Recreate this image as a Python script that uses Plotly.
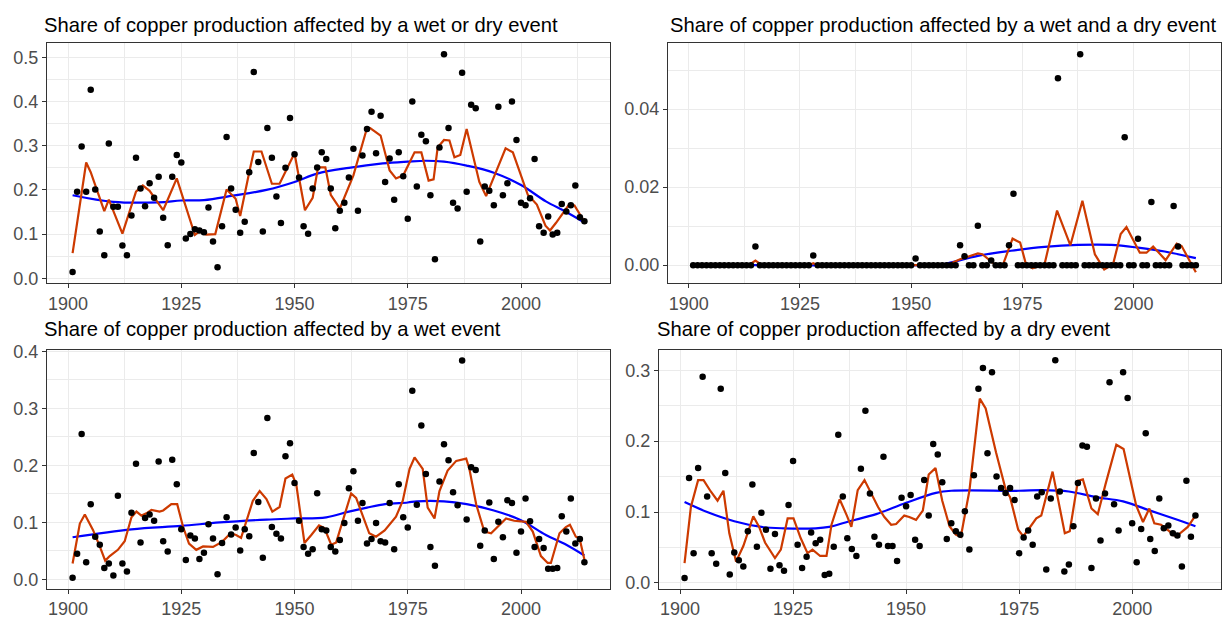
import plotly.graph_objects as go

years = list(range(1901, 2015))

titles = [
    "Share of copper production affected by a wet or dry event",
    "Share of copper production affected by a wet and a dry event",
    "Share of copper production affected by a wet event",
    "Share of copper production affected by a dry event",
]

# ---- Panel 1: wet or dry ----
wet_or_dry = [
    0.014, 0.196, 0.298, 0.196, 0.427, 0.201, 0.106, 0.052, 0.305,          # 1901-1909
    0.162, 0.162, 0.074, 0.052, 0.142, 0.273, 0.203, 0.163, 0.215, 0.182,   # 1910-1919
    0.230, 0.137, 0.075, 0.230, 0.279, 0.262, 0.090, 0.100, 0.111, 0.108,   # 1920-1929
    0.104, 0.160, 0.083, 0.025, 0.118, 0.320, 0.203, 0.155, 0.103, 0.128,   # 1930-1939
    0.240, 0.467, 0.263, 0.106, 0.340, 0.273, 0.185, 0.125, 0.250, 0.363,   # 1940-1949
    0.281, 0.228, 0.118, 0.101, 0.203, 0.251, 0.285, 0.270, 0.203, 0.113,   # 1950-1959
    0.153, 0.171, 0.228, 0.293, 0.153, 0.278, 0.338, 0.377, 0.283, 0.368,   # 1960-1969
    0.218, 0.271, 0.178, 0.285, 0.231, 0.135, 0.400, 0.208, 0.325, 0.310,   # 1970-1979
    0.188, 0.043, 0.296, 0.507, 0.340, 0.171, 0.158, 0.465, 0.196, 0.393,   # 1980-1989
    0.385, 0.083, 0.208, 0.198, 0.165, 0.388, 0.188, 0.215, 0.400, 0.313,   # 1990-1999
    0.171, 0.165, 0.181, 0.270, 0.118, 0.103, 0.140, 0.099, 0.103, 0.168,   # 2000-2009
    0.151, 0.165, 0.210, 0.138, 0.129,                                      # 2010-2014
]
wod_orange_x = [1901, 1904, 1905, 1908, 1909, 1912, 1915, 1916.5, 1918, 1921, 1924, 1928, 1929,
                1930.5, 1932.5, 1935, 1937, 1938, 1940, 1941, 1942.7, 1945, 1946.7, 1950, 1952.3,
                1954, 1955.2, 1956.8, 1958, 1960, 1963, 1966, 1966.7, 1969, 1971, 1972.4, 1974,
                1976.5, 1978, 1979.6, 1980.7, 1981.6, 1983, 1984.2, 1985.3, 1986.6, 1988, 1990.8,
                1992.3, 1996.6, 1998.2, 2001.5, 2003.5, 2005.4, 2006.4, 2007.7, 2010.7, 2011.8, 2014]
wod_orange_y = [0.057, 0.262, 0.240, 0.152, 0.178, 0.101, 0.196, 0.210, 0.198, 0.154, 0.226, 0.098, 0.106,
                0.099, 0.100, 0.201, 0.180, 0.141, 0.240, 0.287, 0.287, 0.214, 0.214, 0.283, 0.154,
                0.182, 0.251, 0.251, 0.189, 0.158, 0.233, 0.340, 0.340, 0.323, 0.244, 0.226, 0.233,
                0.285, 0.285, 0.221, 0.224, 0.296, 0.313, 0.312, 0.274, 0.279, 0.338, 0.218,
                0.186, 0.294, 0.285, 0.189, 0.167, 0.119, 0.108, 0.125, 0.168, 0.165, 0.128]
wod_blue_x = [1901, 1910, 1920, 1925, 1930, 1936.4, 1943.8, 1950, 1955, 1962, 1969.5, 1975, 1979,
              1983, 1988, 1994, 2000, 2005.5, 2010, 2014]
wod_blue_y = [0.188, 0.173, 0.172, 0.176, 0.177, 0.187, 0.200, 0.218, 0.237, 0.250, 0.260, 0.264, 0.266,
              0.264, 0.255, 0.239, 0.211, 0.174, 0.150, 0.126]

# ---- Panel 2: wet and dry ----
wet_and_dry = [
    0, 0, 0, 0, 0, 0, 0, 0, 0,                                              # 1901-1909
    0, 0, 0, 0, 0, 0.0048, 0, 0, 0, 0,                                      # 1910-1919
    0, 0, 0, 0, 0, 0, 0, 0, 0.0025, 0,                                      # 1920-1929
    0, 0, 0, 0, 0, 0, 0, 0, 0, 0,                                           # 1930-1939
    0, 0, 0, 0, 0, 0, 0, 0, 0, 0,                                           # 1940-1949
    0, 0.0017, 0, 0, 0, 0, 0, 0, 0, 0,                                      # 1950-1959
    0, 0.0051, 0.0023, 0, 0, 0.0101, 0, 0, 0.0012, 0,                       # 1960-1969
    0, 0, 0.0051, 0.0183, 0, 0, 0, 0, 0, 0,                                 # 1970-1979
    0, 0, 0, 0.0479, 0, 0, 0, 0, 0.0541, 0,                                 # 1980-1989
    0, 0, 0, 0, 0, 0, 0, 0, 0.0328, 0,                                      # 1990-1999
    0, 0.0068, 0, 0, 0.0162, 0, 0, 0, 0, 0.0152,                            # 2000-2009
    0.0048, 0, 0, 0, 0,                                                     # 2010-2014
]
wad_orange_x = [1901, 1913.5, 1915, 1916.5, 1927, 1928, 1929, 1958, 1961, 1965, 1966, 1969, 1970.6,
                1972.8, 1974.5, 1975.8, 1977.3, 1980, 1982.8, 1985.8, 1988.5, 1991.3, 1993.4, 1995.4,
                1997.1, 1998.4, 2001.4, 2002.9, 2004.4, 2007.2, 2009.7, 2010.8, 2014]
wad_orange_y = [0, 0, 0.0012, 0, 0, 0.0005, 0, 0, 0.0015, 0.0030, 0.0028, 0, 0,
                0.0068, 0.0058, 0.0003, -0.0008, 0.0003, 0.0140, 0.0051, 0.0165, 0.0028, -0.0011, 0.0003,
                0.0080, 0.0098, 0.0032, 0.0032, 0.0048, 0.0013, 0.0055, 0.0049, -0.0018]
wad_blue_x = [1901, 1955, 1957.4, 1965, 1972.4, 1980, 1987.5, 1995, 2001, 2007, 2014]
wad_blue_y = [0.0001, 0.0001, 0.0003, 0.0024, 0.0037, 0.0047, 0.0052, 0.0052, 0.0045, 0.0035, 0.0018]

# ---- Panel 3: wet ----
wet = [
    0.003, 0.045, 0.255, 0.030, 0.132, 0.075, 0.061, 0.020, 0.028,          # 1901-1909
    0.007, 0.147, 0.028, 0.014, 0.117, 0.203, 0.065, 0.108, 0.114, 0.103,   # 1910-1919
    0.207, 0.067, 0.049, 0.210, 0.167, 0.088, 0.034, 0.077, 0.072, 0.036,   # 1920-1929
    0.047, 0.097, 0.072, 0.009, 0.064, 0.109, 0.079, 0.091, 0.051, 0.088,   # 1930-1939
    0.076, 0.222, 0.136, 0.038, 0.283, 0.092, 0.080, 0.072, 0.216, 0.239,   # 1940-1949
    0.169, 0.103, 0.057, 0.045, 0.053, 0.151, 0.088, 0.086, 0.057, 0.049,   # 1950-1959
    0.069, 0.099, 0.160, 0.190, 0.103, 0.134, 0.063, 0.071, 0.099, 0.067,   # 1960-1969
    0.065, 0.134, 0.053, 0.167, 0.109, 0.091, 0.331, 0.131, 0.270, 0.185,   # 1970-1979
    0.057, 0.024, 0.172, 0.237, 0.209, 0.153, 0.130, 0.384, 0.105, 0.197,   # 1980-1989
    0.192, 0.059, 0.086, 0.135, 0.036, 0.101, 0.074, 0.139, 0.134, 0.047,   # 1990-1999
    0.084, 0.142, 0.102, 0.057, 0.071, 0.055, 0.019, 0.019, 0.020, 0.111,   # 2000-2009
    0.084, 0.142, 0.063, 0.071, 0.030,                                      # 2010-2014
]
wet_orange_x = [1901, 1902.6, 1903.7, 1905.5, 1907, 1908.2, 1909.2, 1911, 1912.5, 1914, 1915.1, 1916.2,
                1917.3, 1918.4, 1920.2, 1921, 1922.8, 1924.1, 1925.4, 1926.7, 1928.3, 1929.8, 1932, 1934,
                1935.9, 1937.1, 1938.2, 1940.8, 1942.3, 1943.8, 1945.1, 1946.7, 1948, 1949.5, 1950.4,
                1952.2, 1953.7, 1955.4, 1956.6, 1958.1, 1959.2, 1960.5, 1962.5, 1963.6, 1965.1, 1966.5,
                1968, 1969.9, 1972.4, 1973.9, 1975.4, 1976.5, 1978.3, 1979.4, 1980.9, 1982, 1983.8,
                1985.7, 1987.9, 1988.6, 1990.1, 1991.9, 1993.4, 1996.7, 1998.5, 2001.1, 2002.6, 2004.4,
                2005.9, 2006.6, 2008.5, 2009.9, 2010.8, 2012.1, 2012.9, 2014]
wet_orange_y = [0.028, 0.098, 0.114, 0.087, 0.058, 0.033, 0.041, 0.052, 0.067, 0.109, 0.119, 0.112,
                0.116, 0.122, 0.119, 0.121, 0.132, 0.132, 0.092, 0.063, 0.052, 0.058, 0.057, 0.066,
                0.081, 0.078, 0.073, 0.138, 0.155, 0.141, 0.119, 0.127, 0.177, 0.184, 0.166,
                0.064, 0.078, 0.095, 0.090, 0.061, 0.065, 0.098, 0.151, 0.143, 0.112, 0.081,
                0.075, 0.086, 0.110, 0.138, 0.194, 0.214, 0.194, 0.126, 0.107, 0.155, 0.191,
                0.208, 0.212, 0.194, 0.132, 0.084, 0.081, 0.107, 0.103, 0.101, 0.084, 0.041,
                0.029, 0.029, 0.081, 0.092, 0.096, 0.075, 0.073, 0.035]
wet_blue_x = [1901, 1914, 1925, 1933.5, 1943.8, 1950, 1957, 1962, 1966, 1970, 1975, 1977, 1983, 1988,
              1994, 2000, 2005.5, 2010, 2014]
wet_blue_y = [0.074, 0.088, 0.094, 0.100, 0.105, 0.107, 0.109, 0.119, 0.126, 0.132, 0.135, 0.137, 0.137,
              0.132, 0.121, 0.104, 0.078, 0.061, 0.042]

# ---- Panel 4: dry ----
dry = [
    0.007, 0.148, 0.042, 0.162, 0.291, 0.122, 0.042, 0.027, 0.274,          # 1901-1909
    0.155, 0.012, 0.043, 0.032, 0.023, 0.073, 0.139, 0.051, 0.099, 0.075,   # 1910-1919
    0.020, 0.069, 0.025, 0.017, 0.110, 0.172, 0.054, 0.021, 0.037, 0.071,   # 1920-1929
    0.056, 0.061, 0.011, 0.013, 0.051, 0.209, 0.122, 0.063, 0.048, 0.038,   # 1930-1939
    0.161, 0.243, 0.126, 0.065, 0.054, 0.178, 0.052, 0.052, 0.031, 0.120,   # 1940-1949
    0.108, 0.124, 0.061, 0.052, 0.145, 0.095, 0.196, 0.181, 0.142, 0.062,   # 1950-1959
    0.084, 0.073, 0.068, 0.101, 0.047, 0.152, 0.274, 0.303, 0.183, 0.297,   # 1960-1969
    0.150, 0.134, 0.127, 0.134, 0.117, 0.042, 0.064, 0.074, 0.054, 0.122,   # 1970-1979
    0.128, 0.019, 0.119, 0.314, 0.129, 0.016, 0.026, 0.080, 0.141, 0.194,   # 1980-1989
    0.192, 0.021, 0.119, 0.060, 0.126, 0.283, 0.111, 0.074, 0.297, 0.261,   # 1990-1999
    0.084, 0.029, 0.076, 0.211, 0.062, 0.045, 0.119, 0.077, 0.081, 0.070,   # 2000-2009
    0.067, 0.023, 0.144, 0.065, 0.095,                                      # 2010-2014
]
dry_orange_x = [1901, 1902.4, 1904, 1905.2, 1906.8, 1908.3, 1909.6, 1910.9, 1912.4, 1914, 1916.2, 1917.5,
                1918.8, 1921, 1922.3, 1923.8, 1925.1, 1926.7, 1928.2, 1929.3, 1931, 1932.4, 1933.5,
                1935.3, 1936.9, 1937.9, 1939.3, 1940.8, 1943.8, 1945.2, 1946.7, 1947.8, 1949.6, 1950.7,
                1952.2, 1953.7, 1955, 1956.5, 1958, 1959.6, 1961, 1962.1, 1964, 1966.3, 1967.6, 1969.9,
                1972.1, 1973, 1974.8, 1975.9, 1977, 1978.8, 1979.9, 1982.4, 1985.1, 1986.2, 1988,
                1989.1, 1991, 1992.4, 1994.1, 1996.5, 1998.1, 2000.9, 2002.4, 2003.8, 2004.9, 2006.4,
                2008.2, 2009.3, 2010.4, 2012.3, 2014]
dry_orange_y = [0.028, 0.107, 0.145, 0.145, 0.129, 0.116, 0.130, 0.070, 0.030, 0.052, 0.094, 0.079,
                0.057, 0.035, 0.047, 0.091, 0.091, 0.063, 0.042, 0.047, 0.038, 0.038, 0.082,
                0.118, 0.095, 0.079, 0.131, 0.145, 0.107, 0.093, 0.082, 0.083, 0.095, 0.093,
                0.089, 0.102, 0.153, 0.162, 0.116, 0.080, 0.068, 0.065, 0.130, 0.260, 0.246, 0.184,
                0.130, 0.121, 0.075, 0.066, 0.075, 0.091, 0.095, 0.157, 0.070, 0.073, 0.144,
                0.146, 0.105, 0.097, 0.139, 0.195, 0.189, 0.109, 0.086, 0.105, 0.084, 0.082,
                0.073, 0.067, 0.069, 0.079, 0.095]
dry_blue_x = [1901, 1906, 1912, 1918, 1923, 1930, 1933, 1937.5, 1943.4, 1950, 1956.6, 1960, 1975, 1980,
              1986, 1992, 1998, 2004, 2010, 2014]
dry_blue_y = [0.114, 0.100, 0.087, 0.079, 0.077, 0.077, 0.079, 0.087, 0.097, 0.113, 0.127, 0.130, 0.130,
              0.131, 0.129, 0.121, 0.115, 0.102, 0.089, 0.080]

panels = [
    (wet_or_dry, wod_orange_x, wod_orange_y, wod_blue_x, wod_blue_y),
    (wet_and_dry, wad_orange_x, wad_orange_y, wad_blue_x, wad_blue_y),
    (wet, wet_orange_x, wet_orange_y, wet_blue_x, wet_blue_y),
    (dry, dry_orange_x, dry_orange_y, dry_blue_x, dry_blue_y),
]

W, H = 1228, 621
# plot areas in window pixels: (left, right, top, bottom)
boxes = [(47, 610, 36, 281), (668, 1221, 36, 281), (47, 610, 349, 593), (659, 1221, 349, 593)]
yranges = [[-0.011, 0.532], [-0.0046, 0.0569], [-0.016, 0.403], [-0.008, 0.329]]
ytickvals = [[0, 0.1, 0.2, 0.3, 0.4, 0.5], [0, 0.02, 0.04], [0, 0.1, 0.2, 0.3, 0.4], [0, 0.1, 0.2, 0.3]]
yminor = [0.05, 0.01, 0.05, 0.05]
yfmt = [".1f", ".2f", ".1f", ".1f"]
title_pos = [(42, 17), (668, 17), (42, 328), (655, 328)]

FONT = "Liberation Sans, Arial, sans-serif"
GRID = "#EBEBEB"
BORDER = "#333333"
ORANGE = "#CD3A00"
TICKFONT = dict(family=FONT, size=18, color="#4D4D4D")


def px_x(v):
    return v / W


def px_y(v):
    return 1 - v / H


fig = go.Figure()
layout = dict(width=W, height=H, margin=dict(l=0, r=0, t=0, b=0, pad=0),
              paper_bgcolor="white", plot_bgcolor="white", showlegend=False,
              font=dict(family=FONT, size=15, color="#4D4D4D"))
annotations = []
for i, (pts, ox, oy, bx, by) in enumerate(panels):
    n = "" if i == 0 else str(i + 1)
    xa, ya = "x" + n, "y" + n
    fig.add_trace(go.Scatter(x=bx, y=by, mode="lines", xaxis=xa, yaxis=ya,
                             line=dict(color="#0000FF", width=2.2, shape="spline", smoothing=1.0)))
    fig.add_trace(go.Scatter(x=ox, y=oy, mode="lines", xaxis=xa, yaxis=ya,
                             line=dict(color=ORANGE, width=2.2)))
    fig.add_trace(go.Scatter(x=years, y=pts, mode="markers", xaxis=xa, yaxis=ya,
                             marker=dict(color="black", size=6.5)))
    l, r, t, b = boxes[i]
    layout["xaxis" + n] = dict(
        domain=[max(0, px_x(l)), min(1, px_x(r))], anchor=ya, range=[1895.35, 2019.65],
        tickvals=[1900, 1925, 1950, 1975, 2000], ticktext=["1900", "1925", "1950", "1975", "2000"],
        showgrid=True, gridcolor=GRID, gridwidth=1.1,
        minor=dict(tickvals=[1912.5, 1937.5, 1962.5, 1987.5, 2012.5], showgrid=True,
                   gridcolor=GRID, gridwidth=0.6, ticks=""),
        ticks="outside", ticklen=4, tickcolor=BORDER, tickwidth=1,
        showline=True, mirror=True, linecolor=BORDER, linewidth=1,
        zeroline=False, tickfont=TICKFONT)
    layout["yaxis" + n] = dict(
        domain=[px_y(b), px_y(t)], anchor=xa, range=yranges[i],
        tickvals=ytickvals[i], tickformat=yfmt[i],
        showgrid=True, gridcolor=GRID, gridwidth=1.1,
        minor=dict(dtick=yminor[i], tick0=yminor[i], showgrid=True, gridcolor=GRID, gridwidth=0.6, ticks=""),
        ticks="outside", ticklen=4, tickcolor=BORDER, tickwidth=1,
        showline=True, mirror=True, linecolor=BORDER, linewidth=1,
        zeroline=False, tickfont=TICKFONT)
    tx, ty = title_pos[i]
    annotations.append(dict(text=titles[i], x=px_x(tx), y=px_y(ty), xref="paper", yref="paper",
                            xanchor="left", yanchor="middle", showarrow=False,
                            font=dict(family=FONT, size=20.2, color="black")))
layout["annotations"] = annotations
fig.update_layout(**layout)
fig.write_html(
    "out.html",
    config={"displayModeBar": False},
    post_script="document.body.style.margin='0';document.body.style.overflow='hidden';",
)
